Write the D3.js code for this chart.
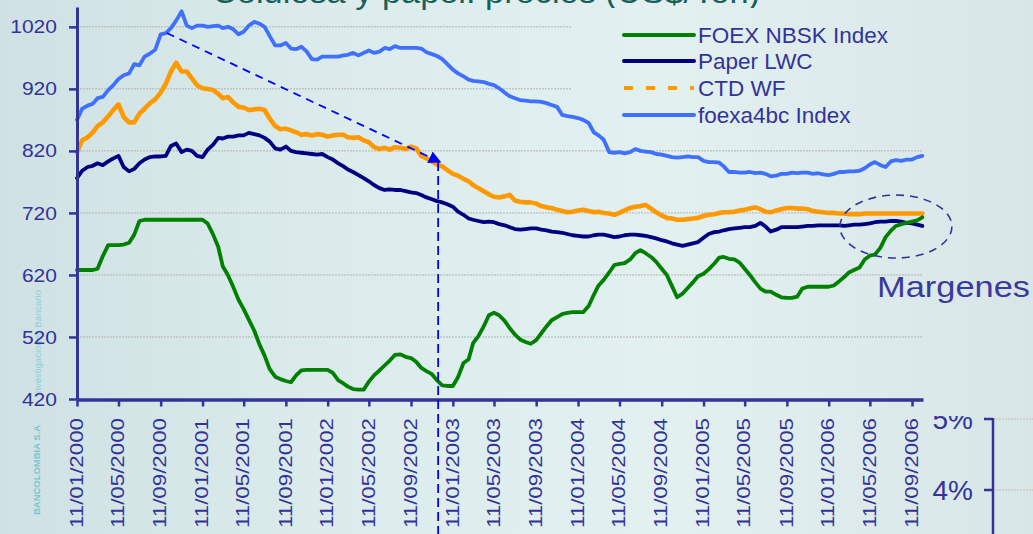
<!DOCTYPE html>
<html><head><meta charset="utf-8">
<script src="https://cdn.jsdelivr.net/npm/d3@7"></script>
<style>html,body{margin:0;padding:0;background:#dceaeb;overflow:hidden}svg{display:block;font-family:"Liberation Sans",Arial,sans-serif}</style>
</head><body><svg id="c" width="1033" height="534"></svg>
<script>
// ---------- DATA ----------
const tickLabels = ["11/01/2000","11/05/2000","11/09/2000","11/01/2001","11/05/2001","11/09/2001","11/01/2002","11/05/2002","11/09/2002","11/01/2003","11/05/2003","11/09/2003","11/01/2004","11/05/2004","11/09/2004","11/01/2005","11/05/2005","11/09/2005","11/01/2006","11/05/2006","11/09/2006"];
const yTicks = [420,520,620,720,820,920,1020];
const seriesNames = ["FOEX NBSK Index","Paper LWC","CTD WF","foexa4bc Index"];
// observations on the 11th and 26th of each month, Jan 2000 .. Oct 2006
const foexNBSK = [628,628,628,628,630, 650,668,668,668,669, 672,685,707,709,709, 709,709,709,709,709, 709,709,709,709,709,
 703,685,665,634,620, 600,580,565,548,530, 508,490,468,456,452, 449,447,458,466,467, 467,467,467,467,462,
 450,445,440,436,435, 435,448,458,466,474, 482,491,492,488,486, 480,470,465,460,450, 442,441,441,455,478,
 484,510,521,537,555, 559,555,546,534,524, 516,512,509,515,526, 537,547,552,557,559, 560,560,560,570,588,
 603,612,624,636,638, 639,645,655,660,655, 649,641,630,620,602, 584,590,599,608,618, 622,629,638,648,649,
 646,645,640,630,620, 608,598,593,593,588, 584,583,583,585,598, 601,601,601,601,601, 603,610,617,624,628,
 632,645,651,653,664, 681,691,699,702,704, 706,708,713];
const paperLWC = [776,788,794,796,800, 797,803,808,812,794, 787,791,800,806,810, 811,811,812,828,832, 818,822,820,812,810,
 822,830,841,840,843, 843,845,845,849,847, 845,841,835,824,822, 827,820,818,817,816, 815,814,815,810,806,
 800,795,790,786,781, 776,771,765,760,757, 758,757,757,755,753, 752,749,745,742,739, 737,734,730,722,717,
 711,709,707,705,706, 705,702,700,697,694, 693,694,695,695,693, 692,690,689,688,686, 684,683,682,682,684,
 685,685,683,681,682, 684,685,685,684,683, 681,679,676,674,671, 669,667,669,671,673, 680,686,689,690,692,
 694,695,696,697,697, 699,704,698,690,693, 697,697,697,697,698, 699,699,700,700,700, 700,700,699,700,701,
 701,702,703,705,706, 706,707,707,706,704, 703,701,699];
const ctdWF = [818,837,842,850,860, 866,876,886,895,875, 866,866,880,888,897, 903,914,928,948,962, 948,948,937,926,921,
 920,918,912,905,907, 898,891,890,886,887, 888,886,872,860,855, 856,853,850,846,847, 845,847,846,843,845,
 846,846,842,841,842, 837,834,826,823,825, 822,826,825,823,827, 824,812,808,803,798, 795,789,783,780,775,
 771,765,760,755,750, 746,745,747,749,740, 738,737,737,735,731, 729,728,725,723,721, 722,724,725,723,721,
 722,720,719,717,720, 724,728,730,731,733, 727,721,716,712,711, 709,709,710,711,712, 715,717,718,720,721,
 721,722,724,725,727, 729,726,722,721,724, 726,728,728,727,727, 726,723,722,721,720, 720,719,719,718,718,
 718,719,719,719,719, 719,719,719,719,719, 719,719,719];
const foexa4bc = [870,888,893,896,905, 907,918,926,936,942, 945,960,958,972,977, 983,1008,1010,1018,1030, 1045,1022,1018,1022,1022,
 1020,1021,1022,1018,1020, 1016,1008,1012,1022,1028, 1025,1020,1005,990,990, 994,985,984,988,980, 968,967,972,972,972,
 972,974,975,978,974, 978,982,978,980,986, 984,989,986,986,986, 986,985,979,976,973, 968,960,951,945,940,
 935,933,932,931,928, 926,921,914,908,905, 902,901,900,900,899, 897,894,891,878,876, 875,873,870,865,850,
 845,838,818,817,818, 816,818,823,820,819, 818,815,814,812,810, 809,810,811,810,810, 804,802,802,801,795,
 786,786,785,785,786, 784,785,783,779,780, 783,783,785,784,785, 785,783,784,782,781, 783,786,786,787,787,
 788,792,798,802,797, 794,803,805,804,806, 806,810,812];
// annotations: [date, value]
const arrowFrom = ["2000-09-29", 1010];
const arrowTo = ["2002-12-05", 802];
const ellipseCenter = ["2006-07-26", 698];
const noteText = "Margenes";
const titleText = "Celulosa y papel: precios (US$/Ton)";
const rightTicks = ["5%","4%"];

// ---------- CHART ----------
const parseTick = d3.timeParse("%d/%m/%Y");
const parseISO = d3.timeParse("%Y-%m-%d");
const dates = d3.range(foexNBSK.length).map(k => new Date(2000, Math.floor(k/2), k % 2 ? 26 : 11));
const svg = d3.select("#c");
const defs = svg.append("defs");
const bg = defs.append("linearGradient").attr("id","bg").attr("gradientUnits","userSpaceOnUse")
  .attr("x1",0).attr("y1",0).attr("x2",1033).attr("y2",0);
[[0,"#cfe1e3"],[0.3,"#dbebec"],[0.65,"#e2f0f0"],[1,"#d8e6e8"]].forEach(s=>bg.append("stop").attr("offset",s[0]).attr("stop-color",s[1]));
defs.append("marker").attr("id","ah").attr("viewBox","0 0 10 10").attr("refX",9).attr("refY",5)
  .attr("markerWidth",7).attr("markerHeight",7).attr("markerUnits","strokeWidth").attr("orient","auto")
  .append("path").attr("d","M0,0L10,5L0,10Z").attr("fill","#0000ff");
defs.append("clipPath").attr("id","cut5").append("rect").attr("x",900).attr("y",416).attr("width",133).attr("height",118);

svg.append("rect").attr("width",1033).attr("height",534).attr("fill","url(#bg)");

const x = d3.scaleTime().domain([new Date(2000,0,11), new Date(2006,9,13)]).range([77,923]);
const y = d3.scaleLinear().domain([420,1052]).range([399,7]);
const axisCol = "#333399";

// title (cut at top, as in the source slide)
svg.append("text").attr("x",212).attr("y",3).attr("font-size",31)
  .attr("textLength",548).attr("lengthAdjust","spacingAndGlyphs")
  .attr("fill","#1a5e5a").text(titleText);

// watermarks
svg.append("text").attr("transform","translate(40,515) rotate(-90)").attr("font-size",9).attr("font-weight","bold")
  .attr("fill","#7cc6d2").attr("textLength",90).attr("lengthAdjust","spacingAndGlyphs").text("BANCOLOMBIA S.A");
svg.append("text").attr("transform","translate(41,396) rotate(-90)").attr("font-size",9)
  .attr("fill","#8ccfd9").attr("textLength",106).attr("lengthAdjust","spacingAndGlyphs").text("Investigaciones Bancario");

// gridlines
svg.append("g").selectAll("line").data(yTicks.filter(v=>v>420)).join("line")
  .attr("x1",77).attr("x2",923).attr("y1",d=>y(d)).attr("y2",d=>y(d))
  .attr("stroke","#b3b3b3").attr("stroke-width",1).attr("stroke-dasharray","2,1");

// legend background (hides gridlines under legend)
svg.append("rect").attr("x",571).attr("y",8).attr("width",360).attr("height",122).attr("fill","url(#bg)");

// series
const line = vals => d3.line().x((d,i)=>x(dates[i])).y(d=>y(d))(vals);
const series = [
  {v:paperLWC, c:"#000080", w:3.8},
  {v:ctdWF, c:"#ff9900", w:4.6},
  {v:foexa4bc, c:"#4070ff", w:3.8},
  {v:foexNBSK, c:"#008000", w:3.8}
];
svg.append("g").selectAll("path").data(series).join("path")
  .attr("d",d=>line(d.v)).attr("fill","none").attr("stroke",d=>d.c).attr("stroke-width",d=>d.w)
  .attr("stroke-linejoin","round").attr("stroke-linecap","round");

// axes
const yAxis = svg.append("g").attr("transform","translate(77,0)")
  .call(d3.axisLeft(y).tickValues(yTicks).tickSize(8).tickSizeOuter(0).tickPadding(12).tickFormat(d3.format("d")));
yAxis.select(".domain").attr("stroke",axisCol).attr("stroke-width",3);
yAxis.selectAll(".tick line").attr("stroke",axisCol).attr("stroke-width",2.5);
yAxis.selectAll(".tick text").attr("fill",axisCol).attr("font-size",19).attr("font-family","Liberation Sans, Arial, sans-serif")
  .attr("textLength",function(d){return String(d).length*11.7;}).attr("lengthAdjust","spacingAndGlyphs");

const tickDates = tickLabels.map(parseTick);
const xAxis = svg.append("g").attr("transform","translate(0,399.5)")
  .call(d3.axisBottom(x).tickValues(tickDates).tickSize(7).tickSizeOuter(0).tickFormat((d,i)=>tickLabels[i]));
xAxis.select(".domain").attr("stroke",axisCol).attr("stroke-width",3.5);
xAxis.selectAll(".tick line").attr("stroke",axisCol).attr("stroke-width",2.5);
xAxis.selectAll(".tick text").attr("fill",axisCol).attr("font-size",18.5).attr("font-family","Liberation Sans, Arial, sans-serif")
  .attr("transform","rotate(-90)").attr("x",-18.5).attr("y",0).attr("dy","0.28em").style("text-anchor","end")
  .attr("textLength",110).attr("lengthAdjust","spacingAndGlyphs");

// annotation arrow + vertical dashed line
const ax1 = x(parseISO(arrowFrom[0])), ay1 = y(arrowFrom[1]);
const ax2 = x(parseISO(arrowTo[0])), ay2 = y(arrowTo[1]);
svg.append("line").attr("x1",ax1).attr("y1",ay1).attr("x2",ax2).attr("y2",ay2)
  .attr("stroke","#0000ff").attr("stroke-width",1.8).attr("stroke-dasharray","8,6").attr("marker-end","url(#ah)");
svg.append("line").attr("x1",ax2-2).attr("x2",ax2-2).attr("y1",ay2).attr("y2",534)
  .attr("stroke","#0000ff").attr("stroke-width",1.8).attr("stroke-dasharray","9,5");

// ellipse + note
svg.append("ellipse").attr("cx",x(parseISO(ellipseCenter[0]))).attr("cy",y(ellipseCenter[1])).attr("rx",56).attr("ry",31.5)
  .attr("fill","none").attr("stroke",axisCol).attr("stroke-width",1.6).attr("stroke-dasharray","8,6");
svg.append("text").attr("x",877).attr("y",297).attr("font-size",30).attr("fill","#3a3a9e")
  .attr("textLength",153).attr("lengthAdjust","spacingAndGlyphs").text(noteText);

// legend
const lg = svg.append("g");
const legendItems = [
  {n:seriesNames[0], c:"#008000", dash:null, y:35},
  {n:seriesNames[1], c:"#000080", dash:null, y:61},
  {n:seriesNames[2], c:"#ff9900", dash:"9,13", y:88},
  {n:seriesNames[3], c:"#4070ff", dash:null, y:115}
];
legendItems.forEach(it=>{
  lg.append("line").attr("x1",624).attr("x2",694).attr("y1",it.y).attr("y2",it.y).attr("stroke",it.c).attr("stroke-width",4)
    .attr("stroke-dasharray",it.dash).attr("stroke-linecap",it.dash?"butt":"round");
  lg.append("text").attr("x",698).attr("y",it.y).attr("dy","0.36em").attr("font-size",22.5).attr("fill",axisCol).text(it.n);
});

// partial secondary chart (bottom right)
const r = svg.append("g");
r.selectAll("line.g").data([419,490]).join("line").attr("x1",993).attr("x2",1033).attr("y1",d=>d).attr("y2",d=>d)
  .attr("stroke","#d4b4b4").attr("stroke-width",1).attr("stroke-dasharray","2,1");
r.append("line").attr("x1",993).attr("x2",993).attr("y1",418).attr("y2",534).attr("stroke",axisCol).attr("stroke-width",2.5);
r.selectAll("line.t").data([419,490]).join("line").attr("x1",984).attr("x2",993).attr("y1",d=>d).attr("y2",d=>d)
  .attr("stroke",axisCol).attr("stroke-width",2.5);
r.append("text").attr("x",973).attr("y",419).attr("dy","0.36em").attr("text-anchor","end").attr("font-size",28)
  .attr("fill",axisCol).attr("clip-path","url(#cut5)").text(rightTicks[0]);
r.append("text").attr("x",973).attr("y",490).attr("dy","0.36em").attr("text-anchor","end").attr("font-size",28)
  .attr("fill",axisCol).text(rightTicks[1]);
</script></body></html>
